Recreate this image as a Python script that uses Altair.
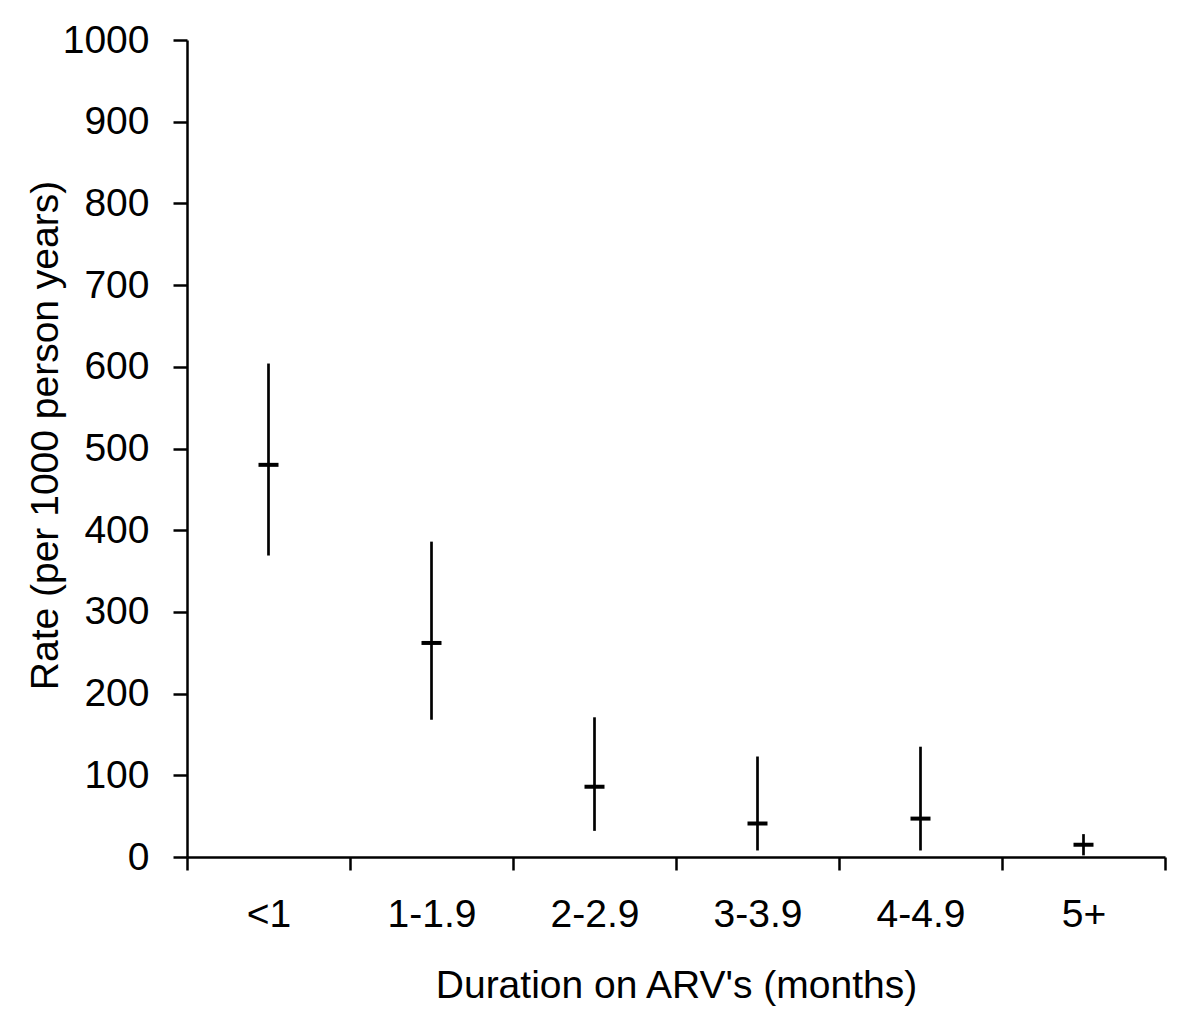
import altair as alt
import pandas as pd

categories = ["<1", "1-1.9", "2-2.9", "3-3.9", "4-4.9", "5+"]
rate = [480, 262, 86, 41, 47, 15]
lower = [369, 168, 32, 8, 8, 2]
upper = [604, 386, 171, 123, 135, 28]

df = pd.DataFrame({"cat": categories, "rate": rate, "lo": lower, "hi": upper})

FONT = "Liberation Sans"
FS = 39

x_enc = alt.X(
    "cat:N",
    sort=categories,
    scale=alt.Scale(paddingInner=0, paddingOuter=0),
    axis=alt.Axis(
        title="Duration on ARV's (months)",
        labelAngle=0,
        tickBand="extent",
        tickSize=13,
        tickWidth=2.5,
        domainWidth=2.5,
        domainColor="black",
        tickColor="black",
        labelPadding=25,
        labelFontSize=FS,
        labelColor="black",
        labelFont=FONT,
        titleFont=FONT,
        titleFontSize=FS,
        titleFontWeight="normal",
        titleColor="black",
        titleY=128,
        titleBaseline="middle",
        grid=False,
    ),
)

y_scale = alt.Scale(domain=[0, 1000], nice=False)
y_axis = alt.Axis(
    title="Rate (per 1000 person years)",
    values=list(range(0, 1001, 100)),
    format="d",
    tickSize=14,
    tickWidth=2.5,
    domainWidth=2.5,
    domainColor="black",
    tickColor="black",
    labelPadding=24,
    labelFontSize=FS,
    labelColor="black",
    labelFont=FONT,
    titleFont=FONT,
    titleFontSize=FS,
    titleFontWeight="normal",
    titleColor="black",
    titleX=-142,
    titleY=395,
    titleAngle=-90,
    titleAlign="center",
    titleBaseline="middle",
    grid=False,
)

rules = alt.Chart(df).mark_rule(color="black", strokeWidth=2.7).encode(
    x=x_enc,
    y=alt.Y("lo:Q", scale=y_scale, axis=y_axis),
    y2="hi:Q",
)

ticks = alt.Chart(df).mark_tick(color="black", size=20, thickness=4, orient="horizontal", opacity=1).encode(
    x=alt.X("cat:N", sort=categories),
    y=alt.Y("rate:Q", scale=y_scale),
)

chart = (
    alt.layer(rules, ticks)
    .properties(
        width=978,
        height=817,
        autosize=alt.AutoSizeParams(type="none"),
        padding={"left": 179, "top": 32, "right": 20, "bottom": 158},
        view=alt.ViewBackground(stroke="transparent", strokeWidth=0, strokeOpacity=0),
    )
    .configure_view(stroke="transparent", strokeWidth=0, strokeOpacity=0)
    .configure(background="white")
)

chart.save("out.html", embed_options={"renderer": "svg", "actions": False})
